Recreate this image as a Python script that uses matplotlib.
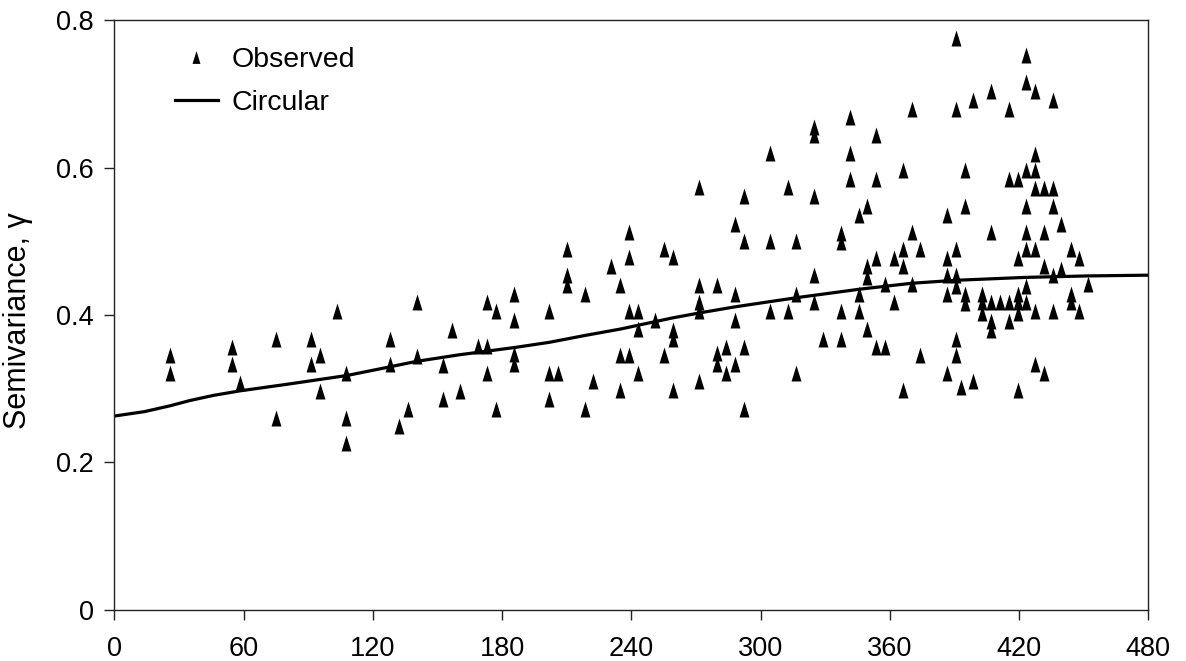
import matplotlib
matplotlib.use("Agg")
import matplotlib.pyplot as plt
from matplotlib.path import Path
import numpy as np

plt.rcParams['font.family'] = ['Liberation Sans', 'DejaVu Sans']

# Observed semivariance (lag, gamma)
obs_lag = [
    25.8, 25.8, 54.4, 54.4, 58.4, 74.9, 74.9, 91.3, 91.3, 95.3, 95.3, 103.5, 107.5, 107.5, 107.5,
    128.1, 128.1, 132.1, 136.3, 140.3, 140.3, 152.7, 152.7, 156.9, 160.5,
    169.0, 173.2, 173.2, 173.2, 177.3, 177.3, 185.5, 185.5, 185.5, 185.5, 201.9, 201.9, 201.9, 206.1,
    210.2, 210.2, 210.2, 218.4, 218.4, 222.4, 230.6, 234.6, 234.6, 234.6, 238.8, 238.8, 238.8, 238.8,
    243.0, 243.0, 243.0, 251.0, 255.2, 255.2, 259.4, 259.4, 259.4, 259.4, 271.6, 271.6, 271.6, 271.6,
    271.6, 279.8, 279.8, 279.8, 284.0, 284.0, 288.0, 288.0, 288.0, 288.0, 292.2, 292.2, 292.2, 292.2,
    304.4, 304.4, 304.4, 312.7, 312.7, 316.5, 316.5, 316.5,
    325.0, 325.0, 325.0, 337.3, 337.3, 341.5, 341.5, 341.5, 345.5, 349.5, 353.7, 353.7, 365.9, 370.1,
    370.1, 386.5, 390.5, 390.5, 394.7, 394.7, 398.7, 406.9, 406.9, 415.1, 415.1, 419.3, 423.4, 423.4,
    423.4, 423.4, 423.4, 427.4, 427.4, 427.4, 427.4, 431.6, 431.6, 435.6, 435.6, 435.6, 439.7,
    365.9, 374.1, 390.5, 423.4, 427.4, 443.9,
    353.7, 361.9, 386.5, 419.3, 448.0,
    349.5, 349.5, 365.9, 431.6, 439.7,
    324.9, 386.5, 390.5, 435.6,
    357.7, 370.1, 390.5, 423.4, 452.0,
    345.5, 386.5, 394.7, 402.9, 419.3, 443.9,
    324.9, 361.9, 394.7, 402.9, 406.9, 411.1, 415.1, 419.3, 423.4, 443.9,
    337.3, 345.5, 402.9, 419.3, 427.4, 435.6, 448.0,
    406.9, 415.1, 406.9, 349.5,
    329.1, 337.3, 390.5,
    353.7, 357.7,
    374.1, 390.5,
    427.4,
    386.5, 431.6,
    398.7, 392.9, 365.9, 419.3,
]
obs_gamma = [
    0.346, 0.321, 0.357, 0.333, 0.308, 0.368, 0.261, 0.368, 0.334, 0.346, 0.297, 0.405, 0.322, 0.261, 0.226,
    0.368, 0.334, 0.249, 0.273, 0.417, 0.344, 0.332, 0.286, 0.380, 0.297,
    0.358, 0.418, 0.358, 0.322, 0.405, 0.273, 0.429, 0.393, 0.347, 0.334, 0.405, 0.322, 0.286, 0.322,
    0.490, 0.454, 0.441, 0.429, 0.273, 0.310, 0.466, 0.441, 0.346, 0.298, 0.513, 0.478, 0.405, 0.346,
    0.405, 0.381, 0.322, 0.393, 0.490, 0.346, 0.478, 0.380, 0.368, 0.298, 0.573, 0.441, 0.418, 0.405,
    0.310, 0.441, 0.348, 0.334, 0.357, 0.321, 0.524, 0.429, 0.393, 0.334, 0.561, 0.500, 0.357, 0.273,
    0.620, 0.500, 0.405, 0.573, 0.405, 0.500, 0.429, 0.322,
    0.655, 0.644, 0.561, 0.511, 0.499, 0.668, 0.620, 0.584, 0.536, 0.548, 0.644, 0.584, 0.596, 0.679,
    0.513, 0.536, 0.776, 0.679, 0.596, 0.548, 0.692, 0.704, 0.513, 0.679, 0.584, 0.584, 0.753, 0.716,
    0.596, 0.548, 0.513, 0.704, 0.619, 0.596, 0.572, 0.572, 0.513, 0.692, 0.572, 0.548, 0.524,
    0.490, 0.490, 0.490, 0.490, 0.490, 0.490,
    0.477, 0.477, 0.477, 0.477, 0.477,
    0.466, 0.452, 0.466, 0.466, 0.463,
    0.454, 0.454, 0.454, 0.454,
    0.442, 0.442, 0.439, 0.439, 0.442,
    0.429, 0.429, 0.429, 0.429, 0.429, 0.429,
    0.417, 0.418, 0.416, 0.417, 0.417, 0.417, 0.417, 0.417, 0.417, 0.417,
    0.405, 0.405, 0.403, 0.403, 0.405, 0.405, 0.405,
    0.392, 0.392, 0.380, 0.381,
    0.368, 0.368, 0.368,
    0.357, 0.357,
    0.346, 0.346,
    0.334,
    0.322, 0.322,
    0.310, 0.303, 0.298, 0.298,
]

# Fitted circular model
model_lag = [0, 14, 26, 35, 46, 58, 80, 108, 125, 140, 160, 186, 202, 218, 235, 259, 272, 288, 304,
             318, 346, 370, 390, 423, 452, 480]
model_gamma = [0.263, 0.269, 0.277, 0.284, 0.291, 0.297, 0.306, 0.318, 0.328, 0.337, 0.346, 0.356,
               0.363, 0.372, 0.381, 0.396, 0.403, 0.411, 0.418, 0.424, 0.435, 0.443, 0.447, 0.451,
               0.453, 0.454]

x_ticks = [0, 60, 120, 180, 240, 300, 360, 420, 480]
y_ticks = [0, 0.2, 0.4, 0.6, 0.8]
y_tick_labels = ['0', '0.2', '0.4', '0.6', '0.8']

fig = plt.figure(figsize=(11.86, 6.61), dpi=100)
ax = fig.add_axes([0.0965, 0.0772, 0.8717, 0.8925])

tri = Path([(0, 1), (-0.62, -1), (0.62, -1), (0, 1)],
           [Path.MOVETO, Path.LINETO, Path.LINETO, Path.CLOSEPOLY])

ax.plot(obs_lag, obs_gamma, linestyle='none', marker=tri, markersize=11.5,
        color='black', markeredgewidth=0, label='Observed')
ax.plot(model_lag, model_gamma, color='black', linewidth=2.3, label='Circular')

ax.set_xlim(0, 480)
ax.set_ylim(0, 0.8)
ax.set_xticks(x_ticks)
ax.set_xticklabels([str(t) for t in x_ticks])
ax.set_yticks(y_ticks)
ax.set_yticklabels(y_tick_labels)

for s in ax.spines.values():
    s.set_color('#222222')
    s.set_linewidth(1.0)

ax.tick_params(axis='both', direction='out', length=7, width=1.0, color='#222222',
               labelsize=19.5, top=False, right=False)
ax.tick_params(axis='x', pad=12)
ax.tick_params(axis='y', pad=8)

ax.set_ylabel('Semivariance, \u03b3', fontsize=22)
ax.yaxis.set_label_coords(-0.079, 0.49)

leg = ax.legend(loc='upper left', bbox_to_anchor=(0.0585, 0.955), frameon=False,
                fontsize=20.5, numpoints=1, handlelength=1.5, handletextpad=0.5,
                borderaxespad=0, borderpad=0, labelspacing=0.6, markerscale=0.8)

fig.savefig('out.png', dpi=100)
